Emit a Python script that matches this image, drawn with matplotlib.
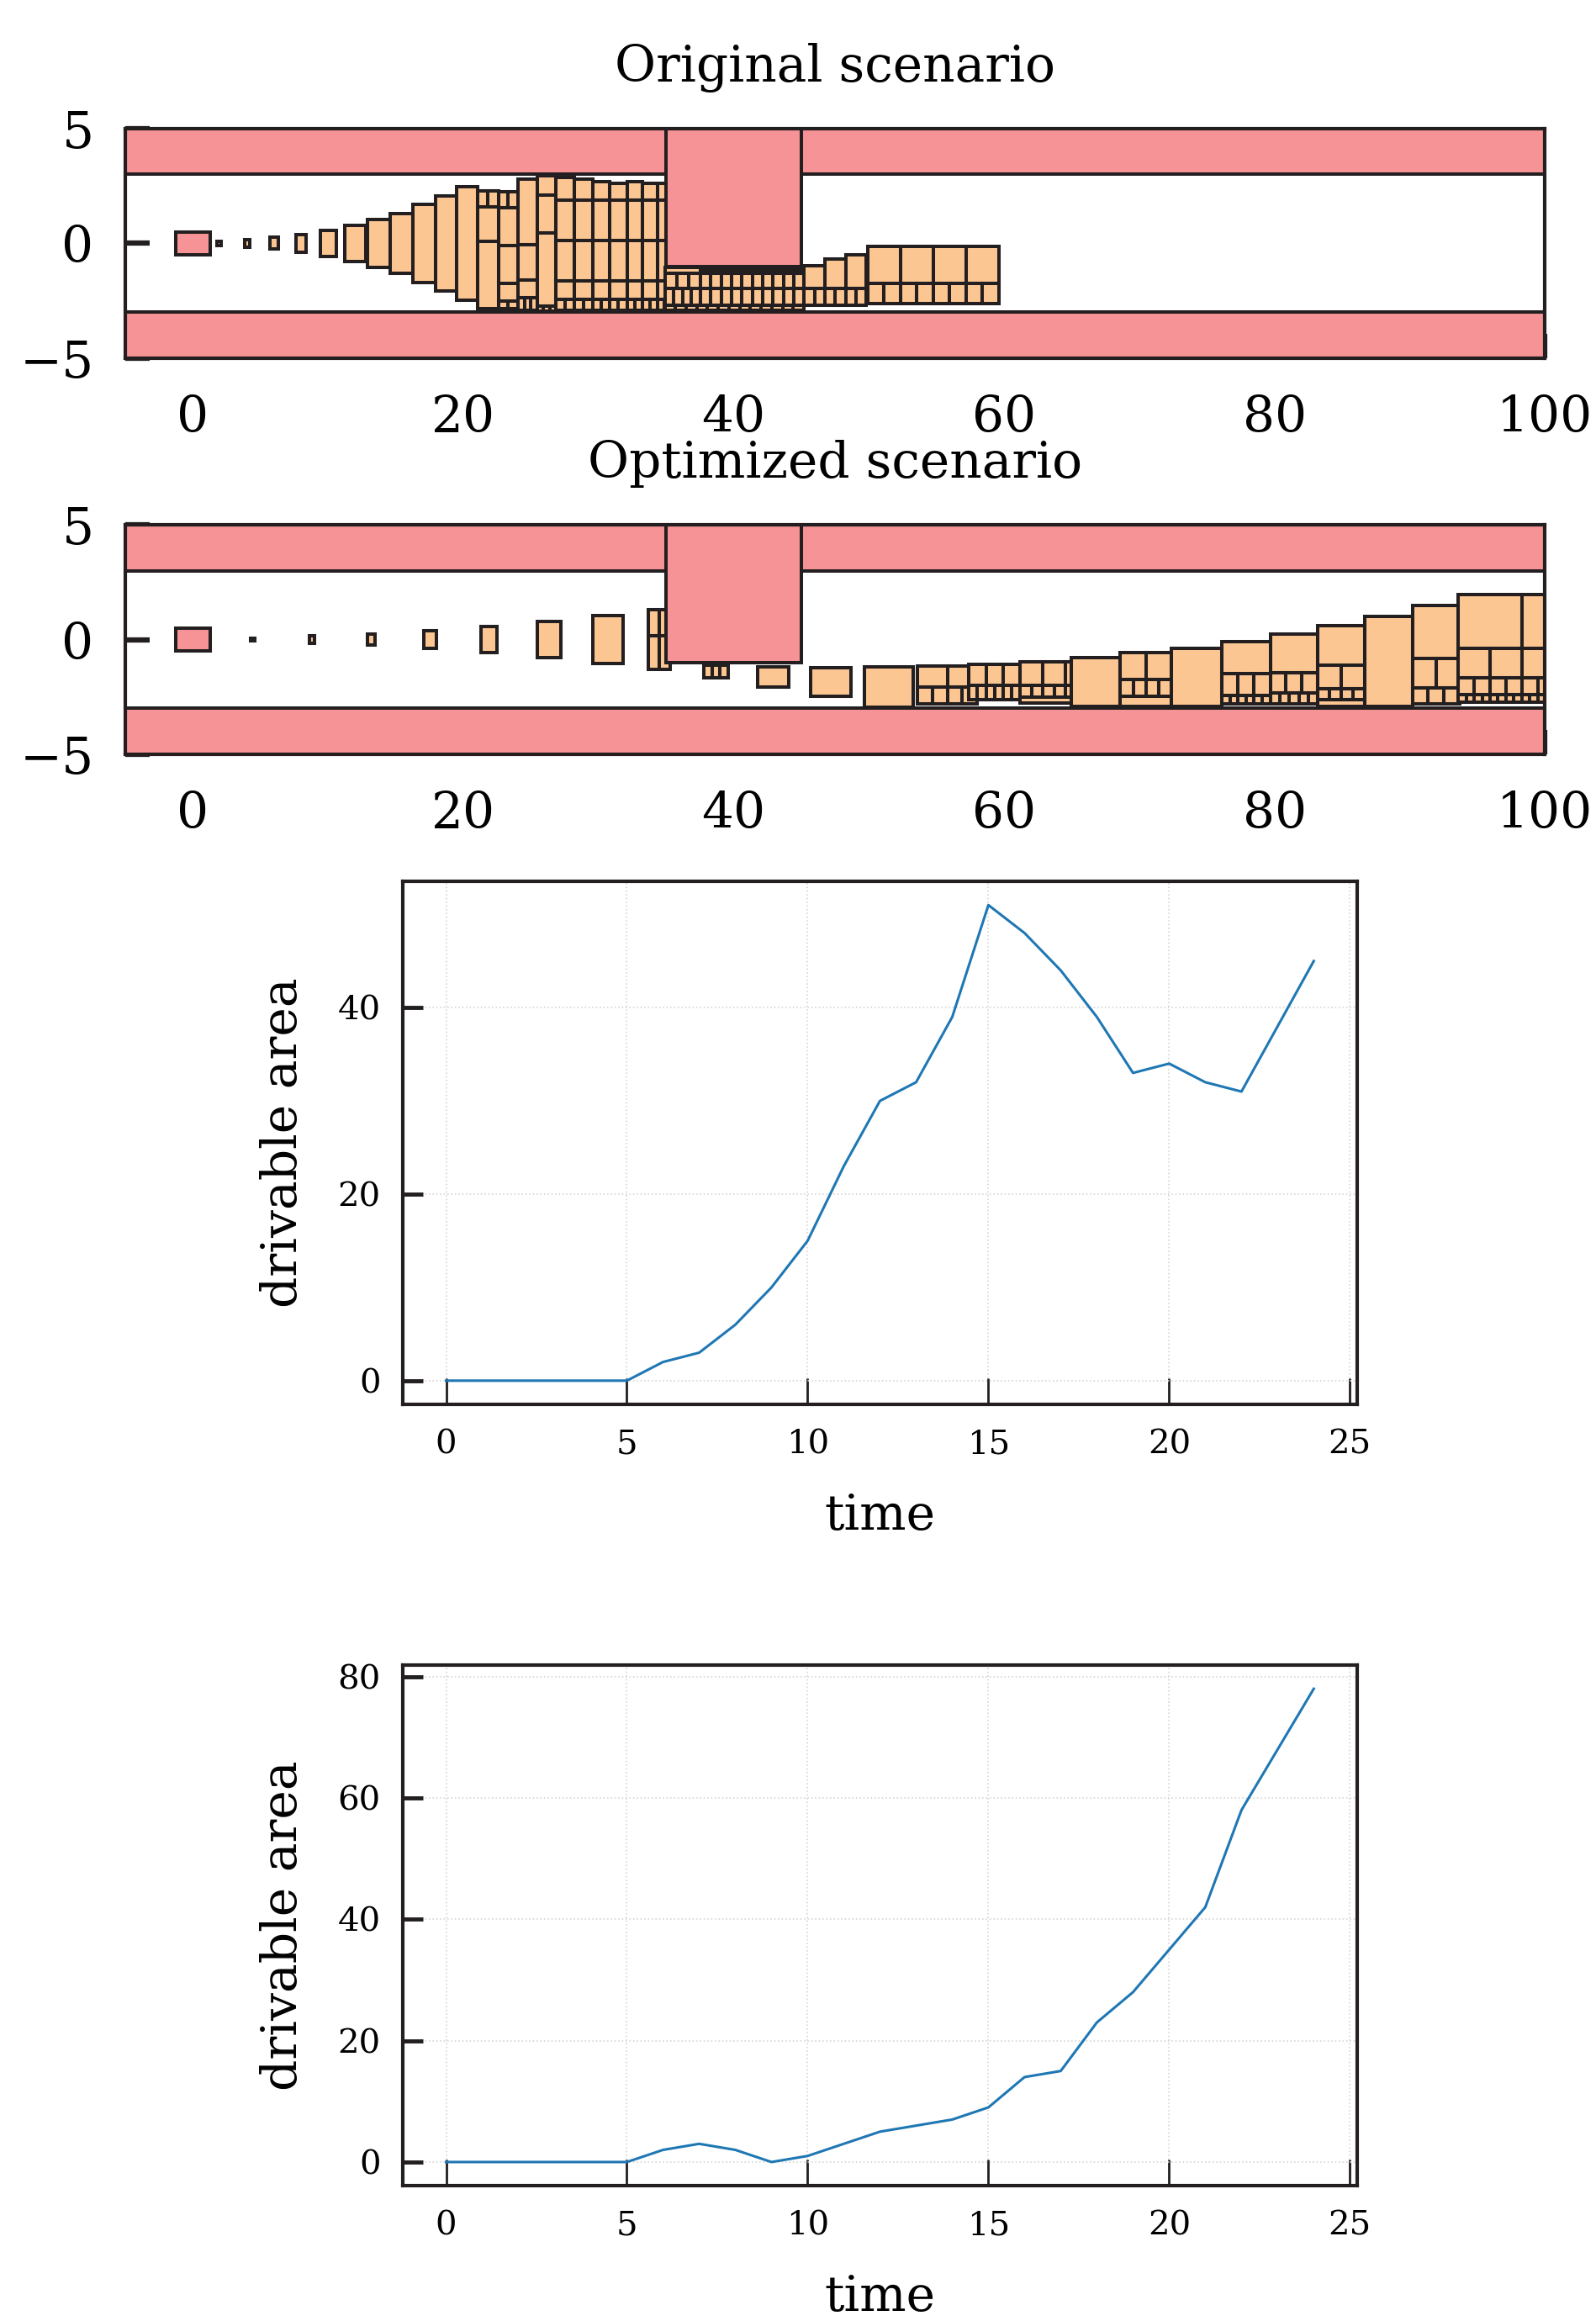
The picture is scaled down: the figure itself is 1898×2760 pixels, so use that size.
import matplotlib
matplotlib.use('Agg')
import matplotlib.pyplot as plt
from matplotlib.patches import Rectangle
import numpy as np

plt.rcParams['font.family'] = 'DejaVu Serif'

ROAD = '#f69396'
CELL = '#fcc692'
EDGE = '#231f20'

# road geometry: (x0, x1, y0, y1)
road_bands = [(-5, 100, 3, 5), (-5, 100, -5, -3)]
obstacle = (35, 45, -1, 5)
ego = (-1.25, 1.3, -0.5, 0.5)

# drivable area cells, original scenario: (x0, x1, y0, y1, cells along x)
orig_cells = [
    (1.8, 2.1, -0.08, 0.08, 1),
    (3.8, 4.2, -0.16, 0.16, 1),
    (5.7, 6.3, -0.26, 0.26, 1),
    (7.6, 8.4, -0.39, 0.39, 1),
    (9.4, 10.6, -0.57, 0.57, 1),
    (11.25, 12.8, -0.78, 0.78, 1),
    (12.9, 14.6, -1.05, 1.05, 1),
    (14.6, 16.3, -1.3, 1.28, 1),
    (16.3, 17.97, -1.69, 1.69, 1),
    (17.97, 19.52, -2.07, 2.06, 1),
    (19.52, 21.07, -2.46, 2.46, 1),
    (21.07, 22.6, 1.58, 2.3, 2),
    (21.07, 22.6, 0.08, 1.58, 1),
    (21.07, 22.6, -2.83, 0.08, 1),
    (22.6, 24.05, 1.54, 2.24, 2),
    (22.6, 24.05, -0.11, 1.54, 1),
    (22.6, 24.05, -1.76, -0.11, 1),
    (22.6, 24.05, -2.52, -1.76, 1),
    (22.6, 24.05, -2.85, -2.52, 2),
    (24.05, 25.45, -0.05, 2.79, 1),
    (24.05, 25.45, -1.58, -0.05, 1),
    (24.05, 25.45, -2.37, -1.58, 1),
    (24.05, 25.45, -2.9, -2.37, 3),
    (25.45, 26.85, 2.12, 2.94, 1),
    (25.45, 26.85, 0.47, 2.12, 1),
    (25.45, 26.85, -2.75, 0.47, 1),
    (25.45, 26.85, -2.95, -2.75, 3),
]
# regular grid part of the original scenario (left of the obstacle)
orig_grid_x = [26.85, 28.2, 29.55, 30.8, 32.1, 33.25, 34.35, 35.4]
orig_grid_top = [2.87, 2.8, 2.7, 2.62, 2.68, 2.62, 2.6]
orig_grid_rows = [1.9, 0.13, -1.63, -2.43, -2.92]
orig_grid_ncol = [1, 1, 1, 1, 2]
# below and after the obstacle
orig_cells_after = [
    (34.9, 37.55, -1.3, -1.05, 1),
    (37.55, 45.2, -1.3, -1.17, 1),
    (34.9, 37.55, -1.97, -1.3, 3),
    (34.9, 37.55, -2.7, -1.97, 4),
    (37.55, 45.2, -1.97, -1.3, 10),
    (37.55, 45.2, -2.7, -1.97, 10),
    (34.9, 45.2, -2.92, -2.7, 13),
    (45.2, 46.75, -1.97, -0.97, 1),
    (45.2, 46.75, -2.7, -1.97, 2),
    (46.75, 48.3, -1.97, -0.69, 1),
    (46.75, 48.3, -2.7, -1.97, 2),
    (48.3, 49.8, -1.97, -0.5, 1),
    (48.3, 49.8, -2.7, -1.97, 2),
    (49.9, 59.6, -1.76, -0.14, 4),
    (49.9, 59.6, -2.64, -1.76, 8),
]

# drivable area cells, optimized scenario
opt_cells = [
    (4.25, 4.57, -0.05, 0.05, 1),
    (8.6, 9.0, -0.17, 0.17, 1),
    (12.9, 13.5, -0.25, 0.25, 1),
    (17.1, 18.0, -0.39, 0.39, 1),
    (21.3, 22.5, -0.56, 0.56, 1),
    (25.5, 27.2, -0.77, 0.77, 1),
    (29.6, 31.8, -1.05, 1.05, 1),
    (33.7, 35.3, 0.15, 1.3, 2),
    (33.7, 35.3, -1.3, 0.15, 2),
    (37.8, 39.6, -1.67, -1.11, 3),
    (41.8, 44.1, -2.07, -1.2, 1),
    (45.7, 48.7, -2.47, -1.23, 1),
    (49.7, 53.3, -2.95, -1.2, 1),
    (53.6, 58.0, -2.08, -1.15, 2),
    (53.6, 58.0, -2.8, -2.08, 4),
    (57.4, 61.2, -2.0, -1.08, 3),
    (57.4, 61.2, -2.62, -2.0, 6),
    (61.2, 66.2, -2.0, -0.96, 3),
    (61.2, 66.2, -2.52, -2.0, 6),
    (61.2, 66.2, -2.75, -2.52, 1),
    (64.95, 68.6, -2.92, -0.8, 1),
    (68.6, 72.4, -1.75, -0.55, 2),
    (68.6, 72.4, -2.47, -1.75, 4),
    (68.6, 72.4, -2.92, -2.47, 1),
    (72.4, 76.1, -2.92, -0.37, 1),
    (76.1, 79.7, -1.5, -0.08, 1),
    (76.1, 79.7, -2.43, -1.5, 3),
    (76.1, 79.7, -2.8, -2.43, 6),
    (79.7, 83.2, -1.45, 0.25, 1),
    (79.7, 83.2, -2.33, -1.45, 3),
    (79.7, 83.2, -2.8, -2.33, 5),
    (83.2, 86.7, -1.1, 0.62, 1),
    (83.2, 86.7, -2.13, -1.1, 2),
    (83.2, 86.7, -2.62, -2.13, 4),
    (83.2, 86.7, -2.92, -2.62, 1),
    (86.7, 90.2, -2.92, 1.02, 1),
    (90.2, 93.7, -0.82, 1.48, 1),
    (90.2, 93.7, -2.12, -0.82, 2),
    (90.2, 93.7, -2.8, -2.12, 3),
    (93.6, 103.0, -0.38, 1.96, 2),
    (93.6, 103.0, -1.67, -0.38, 4),
    (93.6, 103.0, -2.4, -1.67, 8),
    (93.6, 103.0, -2.72, -2.4, 16),
]

# drivable area over time
time = np.arange(25)
orig_area = [0, 0, 0, 0, 0, 0, 2, 3, 6, 10, 15, 23, 30, 32, 39, 51, 48, 44, 39, 33, 34, 32, 31, 38, 45]
opt_area = [0, 0, 0, 0, 0, 0, 2, 3, 2, 0, 1, 3, 5, 6, 7, 9, 14, 15, 23, 28, 35, 42, 58, 68, 78]


def grid_cells(xs, tops, rows, ncols):
    cells = []
    for i in range(len(xs) - 1):
        bounds = [tops[i]] + rows
        for j in range(len(rows)):
            cells.append((xs[i], xs[i + 1], bounds[j + 1], bounds[j], ncols[j]))
    return cells


def add_box(ax, box, color, z):
    x0, x1, y0, y1 = box
    ax.add_patch(Rectangle((x0, y0), x1 - x0, y1 - y0, facecolor=color,
                           edgecolor=EDGE, lw=2.9, zorder=z))


def draw_cells(ax, cells):
    for x0, x1, y0, y1, n in cells:
        w = (x1 - x0) / n
        for k in range(n):
            add_box(ax, (x0 + k * w, x0 + (k + 1) * w, y0, y1), CELL, 2)


def scenario(ax, cells, title):
    for band in road_bands:
        add_box(ax, band, ROAD, 3)
    add_box(ax, obstacle, ROAD, 3.5)
    add_box(ax, ego, ROAD, 4)
    draw_cells(ax, cells)
    ax.set_xlim(-5, 100)
    ax.set_ylim(-5, 5)
    ax.set_xticks([0, 20, 40, 60, 80, 100])
    ax.set_yticks([-5, 0, 5])
    ax.tick_params(axis='both', direction='in', length=21, width=4.5,
                   labelsize=43, color=EDGE)
    ax.tick_params(axis='x', pad=30)
    ax.tick_params(axis='y', pad=27)
    for s in ax.spines.values():
        s.set_linewidth(3)
        s.set_color(EDGE)
        s.set_zorder(10)
    ax.set_title(title, fontsize=43, pad=40)


def area_plot(ax, y, yticks):
    ax.plot(time, y, color='#1f77b4', lw=2.2)
    ax.set_xticks([0, 5, 10, 15, 20, 25])
    ax.set_yticks(yticks)
    ax.grid(True, color='#d6d6d6', linestyle=':', lw=1.2)
    ax.tick_params(axis='both', direction='in', labelsize=29, color=EDGE)
    ax.tick_params(axis='x', length=22, width=2, pad=21)
    ax.tick_params(axis='y', length=17, width=3.5, pad=19)
    for s in ax.spines.values():
        s.set_linewidth(3)
        s.set_color(EDGE)
    ax.set_xlabel('time', fontsize=42, labelpad=28)
    ax.set_ylabel('drivable area', fontsize=42, labelpad=26)


fig = plt.figure(figsize=(18.99, 27.6), dpi=100)

ax1 = fig.add_axes([0.0785, 0.8457, 0.8889, 0.0989])
scenario(ax1, orig_cells + grid_cells(orig_grid_x, orig_grid_top, orig_grid_rows, orig_grid_ncol)
         + orig_cells_after, 'Original scenario')

ax2 = fig.add_axes([0.0785, 0.675, 0.8889, 0.0989])
scenario(ax2, opt_cells, 'Optimized scenario')

ax3 = fig.add_axes([0.2522, 0.3949, 0.5977, 0.2254])
area_plot(ax3, orig_area, [0, 20, 40])

ax4 = fig.add_axes([0.2522, 0.0583, 0.5977, 0.2243])
area_plot(ax4, opt_area, [0, 20, 40, 60, 80])

plt.savefig('out.png', dpi=100)
plt.close()
